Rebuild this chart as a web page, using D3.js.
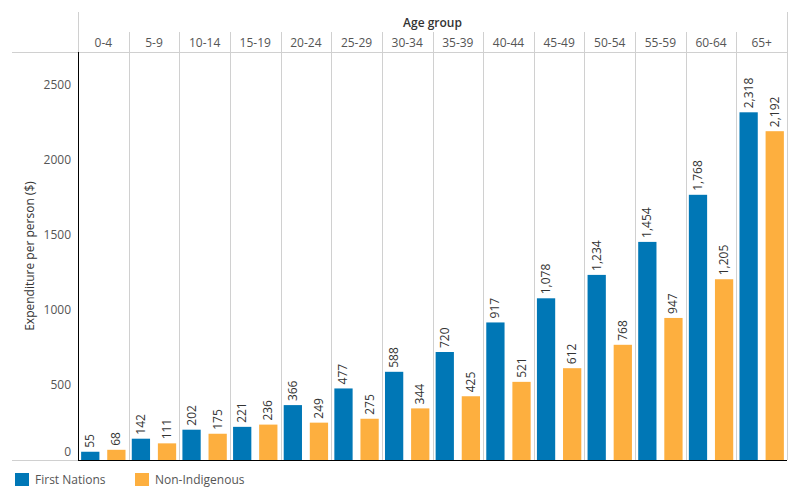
<!DOCTYPE html>
<html>
<head>
<meta charset="utf-8">
<script src="https://cdn.jsdelivr.net/npm/d3@7"></script>
<style>
  body { margin: 0; background: #fff; }
  text { font-family: "Open Sans", Lato, sans-serif; }
</style>
</head>
<body>
<div id="chart"></div>
<script>

var ageGroups = ['0-4', '5-9', '10-14', '15-19', '20-24', '25-29', '30-34', '35-39', '40-44', '45-49', '50-54', '55-59', '60-64', '65+'];
var firstNations = [55, 142, 202, 221, 366, 477, 588, 720, 917, 1078, 1234, 1454, 1768, 2318];
var nonIndigenous = [68, 111, 175, 236, 249, 275, 344, 425, 521, 612, 768, 947, 1205, 2192];
var seriesNames = ['First Nations', 'Non-Indigenous'];
var seriesColors = ['#0077b6', '#fdaf3f'];
var yTicks = [0, 500, 1000, 1500, 2000, 2500];

var width = 800, height = 500;
var plotLeft = 78, plotRight = 787, plotTop = 52, plotBottom = 460;
var fontSize = '12px';

var svg = d3.select('#chart').append('svg')
  .attr('width', width)
  .attr('height', height);

var x = d3.scaleBand().domain(ageGroups).range([plotLeft, plotRight]).paddingInner(0).paddingOuter(0);
var x1 = d3.scaleBand().domain(seriesNames).range([0, x.bandwidth()]).paddingInner(0.3).paddingOuter(0.12);
var y = d3.scaleLinear().domain([0, 2720]).range([plotBottom, plotTop]);

// header lines
svg.append('line').attr('x1', 12).attr('x2', plotRight).attr('y1', plotTop + 0.5).attr('y2', plotTop + 0.5)
  .style('stroke', '#d0d0d0').style('stroke-width', 1);
svg.append('line').attr('x1', plotLeft + 0.5).attr('x2', plotLeft + 0.5).attr('y1', 12).attr('y2', plotTop)
  .style('stroke', '#d0d0d0');
svg.append('line').attr('x1', plotRight + 0.5).attr('x2', plotRight + 0.5).attr('y1', 12).attr('y2', plotBottom)
  .style('stroke', '#d0d0d0');

// column separators
svg.selectAll('.sep').data(ageGroups.slice(1)).enter().append('line')
  .attr('class', 'sep')
  .attr('x1', function(d) { return Math.round(x(d)) + 0.5; })
  .attr('x2', function(d) { return Math.round(x(d)) + 0.5; })
  .attr('y1', 32).attr('y2', plotBottom)
  .style('stroke', '#d0d0d0');

svg.append('text').attr('x', (plotLeft + plotRight) / 2).attr('y', 27)
  .attr('text-anchor', 'middle')
  .style('font-size', fontSize).style('font-weight', '600').style('fill', '#333')
  .text('Age group');

svg.selectAll('.cat').data(ageGroups).enter().append('text')
  .attr('class', 'cat')
  .attr('x', function(d) { return x(d) + x.bandwidth() / 2; })
  .attr('y', 47)
  .attr('text-anchor', 'middle')
  .style('font-size', fontSize).style('fill', '#555')
  .text(function(d) { return d; });

// y axis ticks
svg.selectAll('.ytick').data(yTicks).enter().append('text')
  .attr('class', 'ytick')
  .attr('x', 71)
  .attr('y', function(d) { return d == 0 ? y(d) - 4 : y(d) + 4; })
  .attr('text-anchor', 'end')
  .style('font-size', fontSize).style('fill', '#555')
  .text(function(d) { return d; });

svg.append('text')
  .attr('transform', 'translate(34,' + ((plotTop + plotBottom) / 2) + ') rotate(-90)')
  .attr('text-anchor', 'middle')
  .style('font-size', fontSize).style('fill', '#333')
  .text('Expenditure per person ($)');

// bars
var rows = ageGroups.map(function(g, i) {
  return { group: g, values: [firstNations[i], nonIndigenous[i]] };
});

var groups = svg.selectAll('.grp').data(rows).enter().append('g')
  .attr('class', 'grp')
  .attr('transform', function(d) { return 'translate(' + x(d.group) + ',0)'; });

var fmt = d3.format(',');

groups.selectAll('rect').data(function(d) { return d.values; }).enter().append('rect')
  .attr('x', function(d, i) { return x1(seriesNames[i]); })
  .attr('y', function(d) { return y(d); })
  .attr('width', x1.bandwidth())
  .attr('height', function(d) { return plotBottom - y(d); })
  .style('fill', function(d, i) { return seriesColors[i]; });

groups.selectAll('text').data(function(d) { return d.values; }).enter().append('text')
  .attr('transform', function(d, i) {
    return 'translate(' + (x1(seriesNames[i]) + x1.bandwidth() / 2 + 4) + ',' + (y(d) - 4) + ') rotate(-90)';
  })
  .attr('text-anchor', 'start')
  .style('font-size', fontSize).style('fill', '#333')
  .text(function(d) { return fmt(d); });

// baseline
svg.append('line').attr('x1', 12).attr('x2', plotLeft).attr('y1', plotBottom + 0.5).attr('y2', plotBottom + 0.5)
  .style('stroke', '#d0d0d0');
svg.append('line').attr('x1', plotLeft).attr('x2', plotRight).attr('y1', plotBottom + 0.5).attr('y2', plotBottom + 0.5)
  .style('stroke', '#000');
svg.append('line').attr('x1', plotLeft + 0.5).attr('x2', plotLeft + 0.5).attr('y1', plotTop).attr('y2', plotBottom + 1)
  .style('stroke', '#000');

// legend
var legendX = [15, 135];
var legend = svg.selectAll('.leg').data(seriesNames).enter().append('g')
  .attr('class', 'leg')
  .attr('transform', function(d, i) { return 'translate(' + legendX[i] + ',473)'; });
legend.append('rect').attr('width', 14).attr('height', 13)
  .style('fill', function(d, i) { return seriesColors[i]; });
legend.append('text').attr('x', 20).attr('y', 11)
  .style('font-size', fontSize).style('fill', '#555')
  .text(function(d) { return d; });

</script>
</body>
</html>
